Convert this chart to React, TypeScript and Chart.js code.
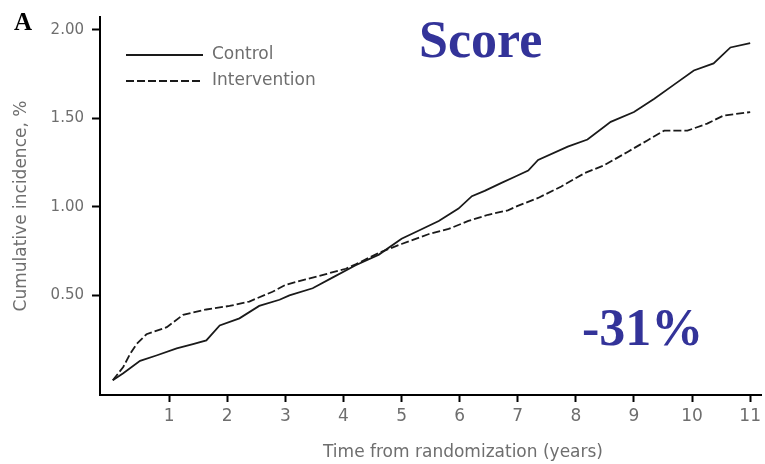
import React, { useEffect, useRef } from "react";
import { Chart, registerables } from "chart.js";

Chart.register(...registerables);

const controlYears = [0.03, 0.21, 0.5, 0.78, 1.13, 1.41, 1.64, 1.87, 2.21, 2.55, 2.9, 3.07, 3.47, 3.81, 4.21, 4.61, 5.0, 5.29, 5.64, 5.98, 6.21, 6.43, 6.72, 6.95, 7.18, 7.35, 7.86, 8.2, 8.6, 9.0, 9.35, 9.69, 10.03, 10.37, 10.66, 11.0];
const controlIncidence = [0.02, 0.06, 0.13, 0.16, 0.2, 0.225, 0.245, 0.33, 0.37, 0.44, 0.475, 0.5, 0.54, 0.6, 0.67, 0.73, 0.82, 0.865, 0.92, 0.99, 1.06, 1.09, 1.135, 1.17, 1.205, 1.265, 1.34, 1.38, 1.48, 1.535, 1.61, 1.69, 1.77, 1.81, 1.9, 1.925];

const interventionYears = [0.03, 0.21, 0.33, 0.44, 0.61, 0.96, 1.24, 1.64, 2.04, 2.38, 2.78, 3.01, 3.35, 3.7, 4.04, 4.21, 4.61, 5.0, 5.46, 5.81, 6.15, 6.49, 6.83, 7.0, 7.35, 7.75, 8.15, 8.49, 8.89, 9.23, 9.52, 9.92, 10.26, 10.54, 11.0];
const interventionIncidence = [0.02, 0.095, 0.17, 0.225, 0.28, 0.32, 0.39, 0.42, 0.44, 0.465, 0.52, 0.56, 0.59, 0.62, 0.65, 0.675, 0.74, 0.79, 0.845, 0.875, 0.92, 0.955, 0.98, 1.005, 1.05, 1.115, 1.19, 1.235, 1.31, 1.375, 1.43, 1.43, 1.47, 1.515, 1.535];

const xTickValues = [1, 2, 3, 4, 5, 6, 7, 8, 9, 10, 11];
const yTickValues = [0.5, 1.0, 1.5, 2.0];
const seriesLabels = ["Control", "Intervention"];
const panelLabel = "A";
const scoreLabel = "Score";
const reductionLabel = "-31%";
const xTitle = "Time from randomization (years)";
const yTitle = "Cumulative incidence, %";

const GRAY = "#6e6e6e";
const BLUE = "#333399";
const LINE = "#1a1a1a";
const SANS = "'DejaVu Sans', sans-serif";
const SERIF = "'Liberation Serif', 'Times New Roman', serif";

const overlayPlugin = {
  id: "overlay",
  afterDraw(chart: any) {
    const ctx = chart.ctx as CanvasRenderingContext2D;
    ctx.save();
    ctx.fillStyle = "#000";
    ctx.font = `bold 25px ${SERIF}`;
    ctx.textAlign = "left";
    ctx.textBaseline = "alphabetic";
    ctx.fillText(panelLabel, 14, 30);
    ctx.fillStyle = BLUE;
    ctx.font = `bold 52px ${SERIF}`;
    ctx.fillText(scoreLabel, 419, 57);
    ctx.fillText(reductionLabel, 582, 345);
    ctx.strokeStyle = LINE;
    ctx.lineWidth = 1.8;
    ctx.setLineDash([]);
    ctx.beginPath();
    ctx.moveTo(126, 55);
    ctx.lineTo(203, 55);
    ctx.stroke();
    ctx.setLineDash([8, 3]);
    ctx.beginPath();
    ctx.moveTo(126, 81);
    ctx.lineTo(203, 81);
    ctx.stroke();
    ctx.setLineDash([]);
    ctx.fillStyle = GRAY;
    ctx.font = `17px ${SANS}`;
    ctx.textBaseline = "middle";
    ctx.fillText(seriesLabels[0], 212, 55);
    ctx.fillText(seriesLabels[1], 212, 81);
    ctx.font = `17px ${SANS}`;
    ctx.textAlign = "center";
    ctx.fillText(xTitle, 463, 453);
    ctx.restore();
  },
};

export default function App() {
  const canvasRef = useRef<HTMLCanvasElement | null>(null);

  useEffect(() => {
    if (!canvasRef.current) return;
    const chart = new Chart(canvasRef.current, {
      type: "line",
      data: {
        datasets: [
          {
            label: seriesLabels[0],
            data: controlYears.map((x, i) => ({ x, y: controlIncidence[i] })),
            borderColor: LINE,
            borderWidth: 1.8,
            pointRadius: 0,
            fill: false,
            tension: 0,
          },
          {
            label: seriesLabels[1],
            data: interventionYears.map((x, i) => ({ x, y: interventionIncidence[i] })),
            borderColor: LINE,
            borderWidth: 1.8,
            borderDash: [8, 3],
            pointRadius: 0,
            fill: false,
            tension: 0,
          },
        ],
      },
      options: {
        responsive: false,
        animation: false,
        layout: { padding: { top: 12, right: 0, left: 0, bottom: 0 } },
        plugins: {
          legend: { display: false },
          tooltip: { enabled: false },
          title: { display: false },
        },
        scales: {
          x: {
            type: "linear",
            min: -0.19,
            max: 11.19,
            afterBuildTicks: (scale: any) => {
              scale.ticks = xTickValues.map((v) => ({ value: v }));
            },
            afterFit: (scale: any) => {
              scale.height = 69;
            },
            ticks: {
              color: GRAY,
              font: { family: SANS, size: 17 },
              padding: 4,
              maxRotation: 0,
              autoSkip: false,
              callback: (v: any) => String(v),
            },
            grid: {
              drawOnChartArea: false,
              drawTicks: true,
              tickLength: 7,
              tickColor: "#000",
              tickWidth: 2,
            },
            border: { display: true, color: "#000", width: 2 },
          },
          y: {
            type: "linear",
            min: -0.063,
            max: 2.072,
            afterBuildTicks: (scale: any) => {
              scale.ticks = yTickValues.map((v) => ({ value: v }));
            },
            afterFit: (scale: any) => {
              scale.width = 100;
            },
            ticks: {
              color: GRAY,
              font: { family: SANS, size: 15 },
              padding: 8,
              autoSkip: false,
              callback: (v: any) => Number(v).toFixed(2),
            },
            grid: {
              drawOnChartArea: false,
              drawTicks: true,
              tickLength: 8,
              tickColor: "#000",
              tickWidth: 2,
            },
            border: { display: true, color: "#000", width: 2 },
            title: {
              display: true,
              text: yTitle,
              color: GRAY,
              font: { family: SANS, size: 17 },
              padding: { top: 11, bottom: 0 },
            },
          },
        },
      },
      plugins: [overlayPlugin],
    });
    return () => chart.destroy();
  }, []);

  return (
    <div style={{ position: "absolute", left: 0, top: 0, width: 765, height: 464, background: "#fff" }}>
      <canvas ref={canvasRef} width={765} height={464} />
    </div>
  );
}
